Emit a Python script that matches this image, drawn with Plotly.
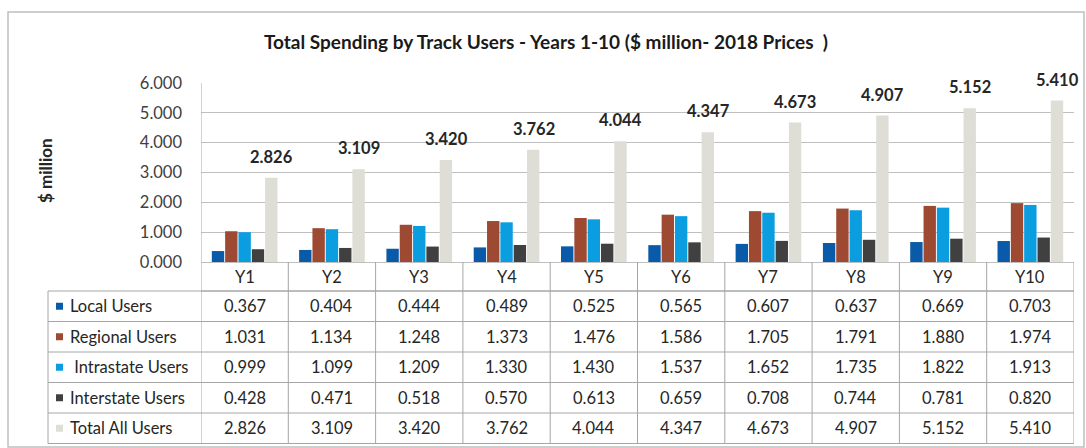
import plotly.graph_objects as go

years = ["Y1", "Y2", "Y3", "Y4", "Y5", "Y6", "Y7", "Y8", "Y9", "Y10"]

local_users = [0.367, 0.404, 0.444, 0.489, 0.525, 0.565, 0.607, 0.637, 0.669, 0.703]
regional_users = [1.031, 1.134, 1.248, 1.373, 1.476, 1.586, 1.705, 1.791, 1.880, 1.974]
intrastate_users = [0.999, 1.099, 1.209, 1.330, 1.430, 1.537, 1.652, 1.735, 1.822, 1.913]
interstate_users = [0.428, 0.471, 0.518, 0.570, 0.613, 0.659, 0.708, 0.744, 0.781, 0.820]
total_users = [2.826, 3.109, 3.420, 3.762, 4.044, 4.347, 4.673, 4.907, 5.152, 5.410]

series_names = ["Local Users", "Regional Users", " Intrastate Users", "Interstate Users", "Total All Users"]
series_values = [local_users, regional_users, intrastate_users, interstate_users, total_users]
series_colors = ["#0A5AAA", "#9E4A32", "#0A9DE0", "#404040", "#DEDED6"]

y_ticks = [0, 1, 2, 3, 4, 5, 6]

W, H = 1086, 448
L, R, T, B = 201, 1074, 83, 262  # plot area in pixels
FONT = "Lato, 'Liberation Sans', sans-serif"
TXT = 16.5
GRID = "#BFBFBF"
TABLE_LINE = "#A6A6A6"


def py(p):
    """pixel row -> paper y"""
    return (B - p) / (B - T)


def px(p):
    """pixel column -> paper x"""
    return (p - L) / (R - L)


fig = go.Figure()
for name, vals, col in zip(series_names, series_values, series_colors):
    fig.add_trace(go.Bar(x=years, y=vals, name=name.strip(), marker_color=col,
                         marker_line_width=0, showlegend=False, hoverinfo="x+y+name"))

shapes = []
annotations = []

# value labels over the total bars
for yr, v in zip(years, total_users):
    annotations.append(dict(x=yr, y=v, xref="x", yref="y", text=f"{v:.3f}",
                            showarrow=False, xshift=27, yshift=21, yanchor="middle",
                            font=dict(family=FONT, size=TXT, color="#262626", weight="bold")))

# table geometry (pixel rows)
header_top, header_bot = B, 291
row_edges = [291, 321.5, 352, 382.5, 413, 443.5]
tab_left = 48

# horizontal lines of the table
shapes.append(dict(type="line", xref="paper", yref="paper", x0=0, x1=1,
                   y0=py(header_bot), y1=py(header_bot), line=dict(color=TABLE_LINE, width=1)))
for e in row_edges:
    shapes.append(dict(type="line", xref="paper", yref="paper", x0=px(tab_left), x1=1,
                       y0=py(e), y1=py(e), line=dict(color=TABLE_LINE, width=1)))
# vertical lines between year columns
for i in range(len(years) + 1):
    xv = i - 0.5
    shapes.append(dict(type="line", xref="x", yref="paper", x0=xv, x1=xv,
                       y0=0 if i > 0 else 1, y1=py(row_edges[-1]),
                       line=dict(color=TABLE_LINE, width=1)))
# left edge of the label column
shapes.append(dict(type="line", xref="paper", yref="paper", x0=px(tab_left), x1=px(tab_left),
                   y0=py(row_edges[0]), y1=py(row_edges[-1]), line=dict(color=TABLE_LINE, width=1)))

# header row with year names
for yr in years:
    annotations.append(dict(x=yr, y=py((header_top + header_bot) / 2), xref="x", yref="paper",
                            text=yr, showarrow=False, yanchor="middle",
                            font=dict(family=FONT, size=TXT, color="#262626")))

# data rows
for r, (name, vals, col) in enumerate(zip(series_names, series_values, series_colors)):
    yc = (row_edges[r] + row_edges[r + 1]) / 2
    shapes.append(dict(type="rect", xref="paper", yref="paper",
                       x0=px(56), x1=px(63), y0=py(yc + 3.5), y1=py(yc - 3.5),
                       fillcolor=col, line=dict(width=0)))
    label = name.replace(" ", "&nbsp;", 1) if name.startswith(" ") else name
    annotations.append(dict(x=px(68), y=py(yc), xref="paper", yref="paper", text=label,
                            showarrow=False, xanchor="left", yanchor="middle",
                            font=dict(family=FONT, size=TXT, color="#262626")))
    for yr, v in zip(years, vals):
        annotations.append(dict(x=yr, y=py(yc), xref="x", yref="paper", text=f"{v:.3f}",
                                showarrow=False, yanchor="middle",
                                font=dict(family=FONT, size=TXT, color="#262626")))

# outer chart frame
shapes.append(dict(type="rect", xref="paper", yref="paper",
                   x0=px(8), x1=px(1084), y0=py(447), y1=py(12),
                   line=dict(color="#BFBFBF", width=1.5), fillcolor="rgba(0,0,0,0)"))

# axis title
annotations.append(dict(x=px(45), y=py(171), xref="paper", yref="paper", text="$ million",
                        showarrow=False, textangle=-90, xanchor="center", yanchor="middle",
                        font=dict(family=FONT, size=17, color="#262626", weight="bold")))

fig.update_layout(
    width=W, height=H,
    margin=dict(l=L, r=W - R, t=T, b=H - B, pad=0),
    paper_bgcolor="white", plot_bgcolor="white",
    title=dict(text="Total Spending by Track Users - Years 1-10 ($ million- 2018 Prices  )",
               xref="container", x=546 / W, xanchor="center",
               yref="container", y=1 - 42 / H, yanchor="middle",
               font=dict(family=FONT, size=19, color="#1a1a1a", weight="bold")),
    barmode="group", bargap=0.237, bargroupgap=0.07,
    xaxis=dict(showticklabels=False, showgrid=False, zeroline=False, showline=False,
               ticks="", range=[-0.5, len(years) - 0.5]),
    yaxis=dict(range=[0, 6], tickvals=y_ticks, tickformat=".3f", showgrid=True,
               gridcolor=GRID, gridwidth=1, zeroline=True, zerolinecolor=GRID, zerolinewidth=1,
               showline=False, ticks="", ticklabelstandoff=18,
               tickfont=dict(family=FONT, size=TXT, color="#404040")),
    shapes=shapes, annotations=annotations,
    hovermode="closest",
)

fig.write_html("out.html")
